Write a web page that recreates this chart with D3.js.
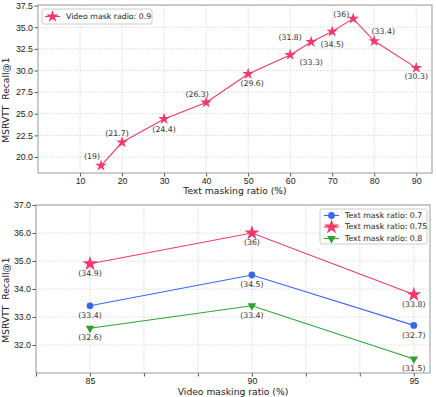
<!DOCTYPE html>
<html>
  <head>
    <meta charset="utf-8">
    <title>Masking ratio vs MSRVTT Recall@1</title>
    <script src="https://d3js.org/d3.v7.min.js"></script>
    <style>
      body { margin: 0; background: #fff; }
      svg { display: block; font-family: "DejaVu Sans", sans-serif; }
      .grid line { stroke: #d0d0d0; stroke-dasharray: 1.5,1.5; stroke-width: 0.8; }
      .tick text { fill: #222; }
      .ylab { white-space: pre; }
    </style>
  </head>
  <body>
    <svg id="chart" width="436" height="397"></svg>
    <script>
      // top chart data: text masking ratio at video mask 0.9
      var textRatio = [15, 20, 30, 40, 50, 60, 65, 70, 75, 80, 90];
      var textRecall = [19, 21.7, 24.4, 26.3, 29.6, 31.8, 33.3, 34.5, 36, 33.4, 30.3];
      var topXTicks = [10, 20, 30, 40, 50, 60, 70, 80, 90];
      var topYTicks = [20, 22.5, 25, 27.5, 30, 32.5, 35, 37.5];

      // bottom chart data: video masking ratio per text mask ratio
      var videoRatio = [85, 90, 95];
      var seriesNames = ["Text mask ratio: 0.7", "Text mask ratio: 0.75", "Text mask ratio: 0.8"];
      var recall07 = [33.4, 34.5, 32.7];
      var recall075 = [34.9, 36, 33.8];
      var recall08 = [32.6, 33.4, 31.5];
      var bottomXTicks = [85, 90, 95];
      var bottomYTicks = [32, 33, 34, 35, 36, 37];

      // label offsets in px (layout only)
      var topLabelOffsets = [[-9, -9], [-5, -8], [0, 11], [-9, -8], [4, 10], [0, -17], [0, 21], [0, 13], [-12, -4], [9, -9], [0, 9]];

      var red = "#f5386c", blue = "#3a67f2", green = "#31a231";
      var tickFont = 8.8, noteFont = 7.8, labelFont = 9.2;
      var svg = d3.select("#chart");

      function fmt(v) { return "(" + v + ")"; }
      function star(size) { return d3.symbol().type(d3.symbolStar).size(size)(); }
      function styleAxis(a) {
        a.select(".domain").remove();
        a.selectAll("line").attr("stroke", "#555");
        a.selectAll("text").attr("font-size", tickFont);
      }

      // ---------- top chart ----------
      var t = { left: 38, right: 432, top: 5, bottom: 173 };
      var x1 = d3.scaleLinear().domain([0, 93.75]).range([t.left, t.right]);
      var y1 = d3.scaleLinear().domain([18.15, 37.57]).range([t.bottom, t.top]);
      var g1 = svg.append("g");

      g1.append("g").attr("class", "grid")
        .selectAll("line.v").data(topXTicks).enter().append("line")
          .attr("x1", function(d) { return x1(d); }).attr("x2", function(d) { return x1(d); })
          .attr("y1", t.top).attr("y2", t.bottom);
      g1.select(".grid")
        .selectAll("line.h").data(topYTicks).enter().append("line")
          .attr("y1", function(d) { return y1(d); }).attr("y2", function(d) { return y1(d); })
          .attr("x1", t.left).attr("x2", t.right);

      g1.append("g").attr("transform", "translate(0," + t.bottom + ")")
        .call(d3.axisBottom(x1).tickValues(topXTicks).tickSize(3.5).tickPadding(1.5).tickFormat(d3.format("d")))
        .call(styleAxis);
      g1.append("g").attr("transform", "translate(" + t.left + ",0)")
        .call(d3.axisLeft(y1).tickValues(topYTicks).tickSize(3.5).tickPadding(1.5).tickFormat(d3.format(".1f")))
        .call(styleAxis);

      g1.append("rect").attr("x", t.left).attr("y", t.top)
        .attr("width", t.right - t.left).attr("height", t.bottom - t.top)
        .attr("fill", "none").attr("stroke", "#999").attr("stroke-width", 1);

      g1.append("path")
        .datum(textRatio.map(function(d, i) { return [d, textRecall[i]]; }))
        .attr("fill", "none").attr("stroke", red).attr("stroke-width", 1.1)
        .attr("d", d3.line().x(function(d) { return x1(d[0]); }).y(function(d) { return y1(d[1]); }));
      g1.selectAll(".pt").data(textRatio).enter().append("path")
        .attr("d", star(42)).attr("fill", red)
        .attr("transform", function(d, i) { return "translate(" + x1(d) + "," + y1(textRecall[i]) + ")"; });
      g1.selectAll(".lab").data(textRatio).enter().append("text")
        .attr("x", function(d, i) { return x1(d) + topLabelOffsets[i][0]; })
        .attr("y", function(d, i) { return y1(textRecall[i]) + topLabelOffsets[i][1]; })
        .attr("text-anchor", "middle").attr("dominant-baseline", "middle")
        .attr("font-size", noteFont).attr("fill", "#333")
        .text(function(d, i) { return fmt(textRecall[i]); });

      // legend
      var lg1 = g1.append("g").attr("transform", "translate(42,9)");
      lg1.append("rect").attr("width", 110).attr("height", 15).attr("rx", 2)
        .attr("fill", "#fff").attr("stroke", "#ccc");
      lg1.append("line").attr("x1", 3).attr("x2", 18).attr("y1", 7.5).attr("y2", 7.5)
        .attr("stroke", red).attr("stroke-width", 1.1);
      lg1.append("path").attr("d", star(48)).attr("fill", red).attr("transform", "translate(10.5,7.5)");
      lg1.append("text").attr("x", 24).attr("y", 7.5).attr("dominant-baseline", "middle")
        .attr("font-size", noteFont).attr("fill", "#222").text("Video mask radio: 0.9");

      g1.append("text").attr("x", (t.left + t.right) / 2).attr("y", 191.5)
        .attr("text-anchor", "middle").attr("dominant-baseline", "middle")
        .attr("font-size", labelFont).attr("fill", "#222").text("Text masking ratio (%)");
      g1.append("text").attr("class", "ylab")
        .attr("transform", "translate(6.5," + ((t.top + t.bottom) / 2 + 11) + ") rotate(-90)")
        .attr("text-anchor", "middle").attr("dominant-baseline", "middle")
        .attr("font-size", labelFont).attr("fill", "#222").text("MSRVTT  Recall@1");

      // ---------- bottom chart ----------
      var b = { left: 36, right: 430, top: 205, bottom: 373 };
      var x2 = d3.scaleLinear().domain([83.333, 95.5]).range([b.left, b.right]);
      var y2 = d3.scaleLinear().domain([31, 37]).range([b.bottom, b.top]);
      var minorX = d3.range(0, 8).map(function(k) { return 83.333 + k * 5 / 3; });
      var g2 = svg.append("g");

      g2.append("g").attr("class", "grid2 grid")
        .selectAll("line.v").data(minorX).enter().append("line")
          .attr("x1", function(d) { return x2(d); }).attr("x2", function(d) { return x2(d); })
          .attr("y1", b.top).attr("y2", b.bottom);
      g2.select(".grid2")
        .selectAll("line.h").data(bottomYTicks).enter().append("line")
          .attr("y1", function(d) { return y2(d); }).attr("y2", function(d) { return y2(d); })
          .attr("x1", b.left).attr("x2", b.right);

      g2.append("g").attr("transform", "translate(0," + b.bottom + ")")
        .call(d3.axisBottom(x2).tickValues(minorX).tickSize(3.5).tickPadding(1.5)
          .tickFormat(function(d) { return bottomXTicks.indexOf(Math.round(d * 1000) / 1000) >= 0 ? d3.format("d")(d) : ""; }))
        .call(styleAxis);
      g2.append("g").attr("transform", "translate(" + b.left + ",0)")
        .call(d3.axisLeft(y2).tickValues(bottomYTicks).tickSize(3.5).tickPadding(1.5).tickFormat(d3.format(".1f")))
        .call(styleAxis);

      g2.append("rect").attr("x", b.left).attr("y", b.top)
        .attr("width", b.right - b.left).attr("height", b.bottom - b.top)
        .attr("fill", "none").attr("stroke", "#999").attr("stroke-width", 1);

      var series = [
        { name: seriesNames[0], values: recall07, color: blue, sym: d3.symbol().type(d3.symbolCircle).size(36)(), rot: 0 },
        { name: seriesNames[1], values: recall075, color: red, sym: star(70), rot: 0 },
        { name: seriesNames[2], values: recall08, color: green, sym: d3.symbol().type(d3.symbolTriangle).size(32)(), rot: 180 }
      ];
      var line2 = d3.line().x(function(d) { return x2(d[0]); }).y(function(d) { return y2(d[1]); });

      series.forEach(function(s) {
        var pts = videoRatio.map(function(d, i) { return [d, s.values[i]]; });
        g2.append("path").datum(pts).attr("fill", "none")
          .attr("stroke", s.color).attr("stroke-width", 1.1).attr("d", line2);
        g2.append("g").selectAll("path").data(pts).enter().append("path")
          .attr("d", s.sym).attr("fill", s.color)
          .attr("transform", function(d) { return "translate(" + x2(d[0]) + "," + y2(d[1]) + ") rotate(" + s.rot + ")"; });
        g2.append("g").selectAll("text").data(pts).enter().append("text")
          .attr("x", function(d) { return x2(d[0]); })
          .attr("y", function(d) { return y2(d[1]) + 10; })
          .attr("text-anchor", "middle").attr("dominant-baseline", "middle")
          .attr("font-size", noteFont).attr("fill", "#333")
          .text(function(d) { return fmt(d[1]); });
      });

      // legend
      var lg2 = g2.append("g").attr("transform", "translate(320,209)");
      lg2.append("rect").attr("width", 107).attr("height", 35).attr("rx", 2)
        .attr("fill", "#fff").attr("stroke", "#ccc");
      series.forEach(function(s, i) {
        var yy = 6.5 + i * 11.5;
        lg2.append("line").attr("x1", 4).attr("x2", 19).attr("y1", yy).attr("y2", yy)
          .attr("stroke", s.color).attr("stroke-width", 1.1);
        lg2.append("path").attr("d", s.sym).attr("fill", s.color)
          .attr("transform", "translate(11.5," + yy + ") rotate(" + s.rot + ")");
        lg2.append("text").attr("x", 25).attr("y", yy).attr("dominant-baseline", "middle")
          .attr("font-size", noteFont).attr("fill", "#222").text(s.name);
      });

      g2.append("text").attr("x", (b.left + b.right) / 2).attr("y", 392.5)
        .attr("text-anchor", "middle").attr("dominant-baseline", "middle")
        .attr("font-size", labelFont).attr("fill", "#222").text("Video masking ratio (%)");
      g2.append("text").attr("class", "ylab")
        .attr("transform", "translate(6.5," + ((b.top + b.bottom) / 2 + 11) + ") rotate(-90)")
        .attr("text-anchor", "middle").attr("dominant-baseline", "middle")
        .attr("font-size", labelFont).attr("fill", "#222").text("MSRVTT  Recall@1");
    </script>
  </body>
</html>
